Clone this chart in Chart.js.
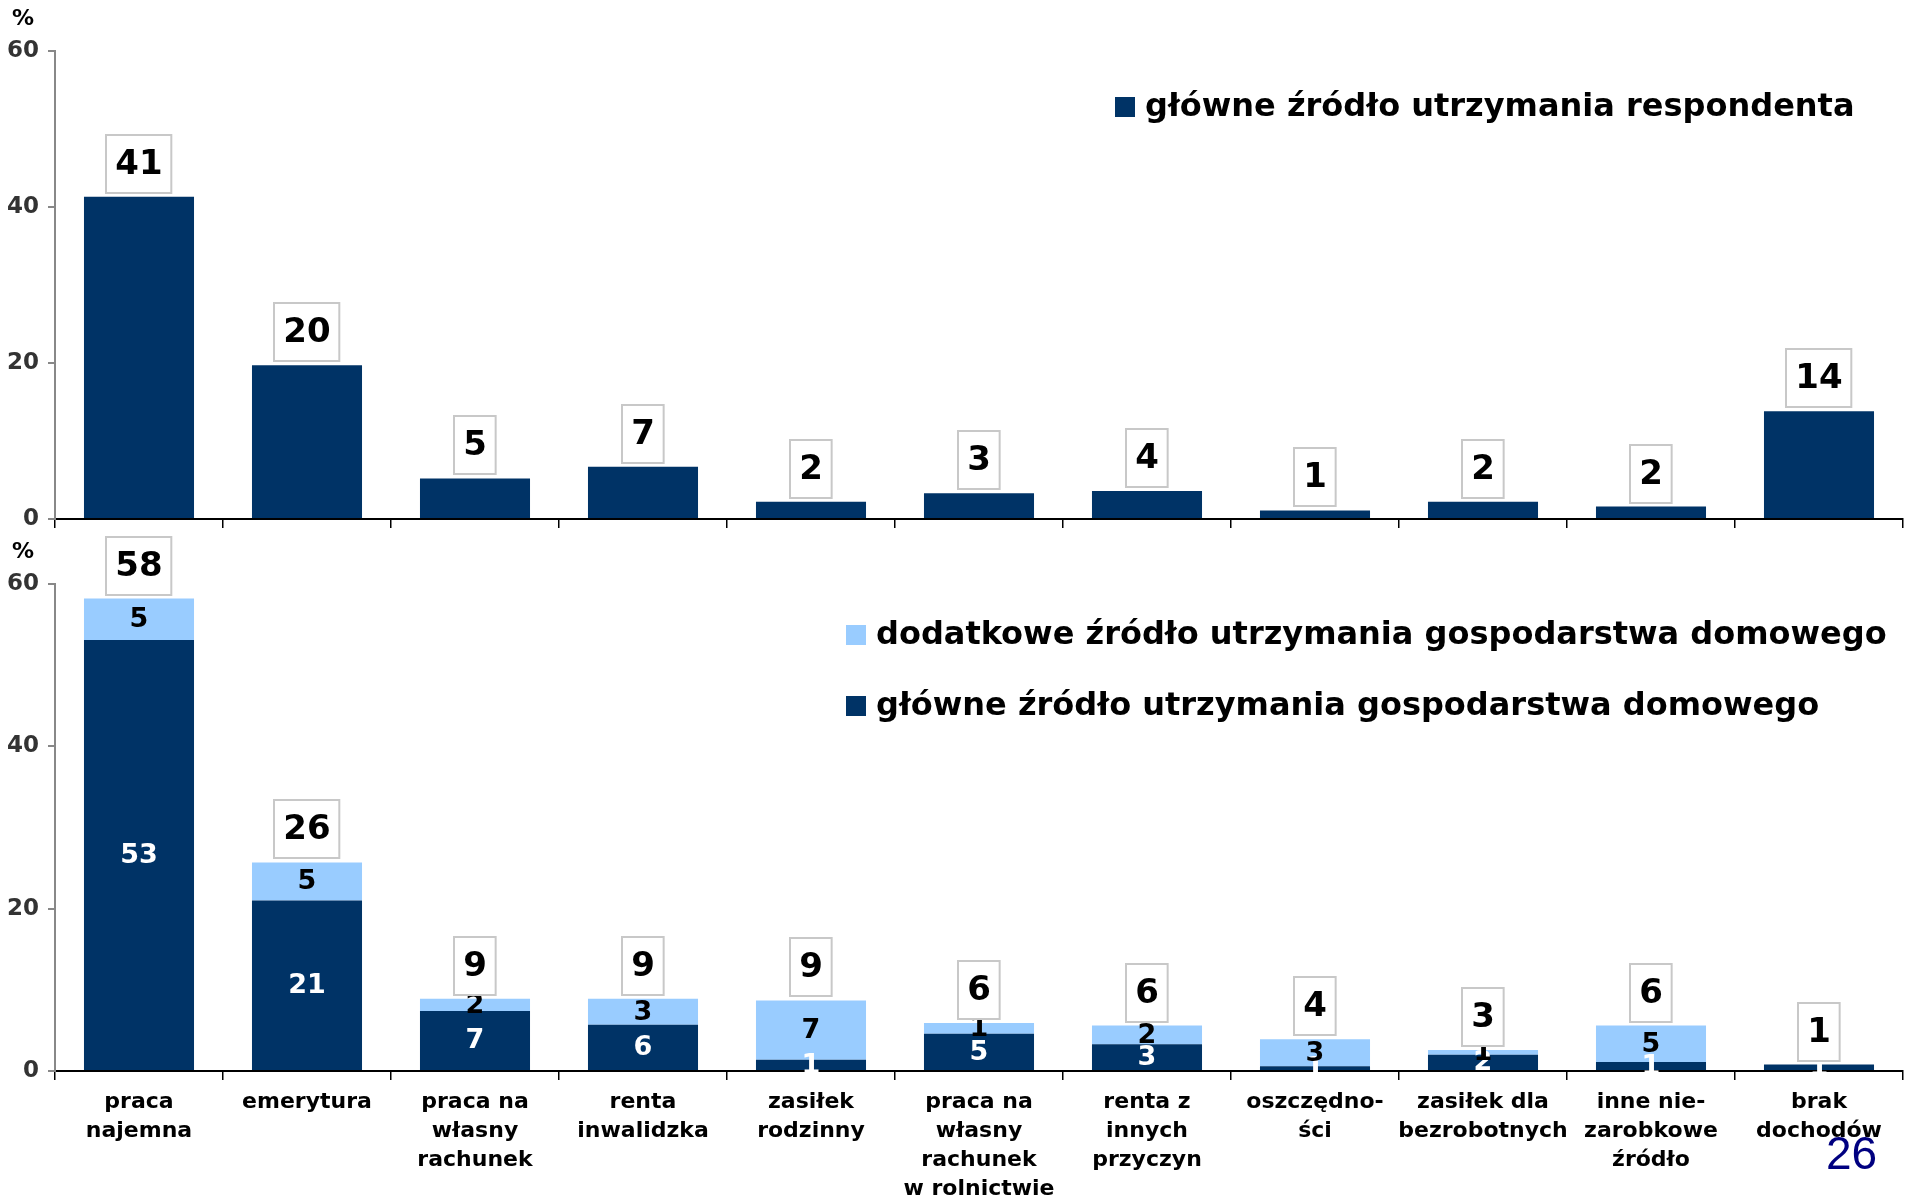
<!DOCTYPE html>
<html>
<head>
<meta charset="utf-8">
<script src="https://cdn.jsdelivr.net/npm/chart.js@4.4.1/dist/chart.umd.min.js"></script>
<style>
  html, body { margin: 0; padding: 0; background: #fff; }
  #wrap { position: relative; width: 1915px; height: 1203px; overflow: hidden; }
  #page { position: absolute; left: 1826px; top: 1126px; font: 46px "Liberation Sans", Arial, sans-serif; color: #000080; }
</style>
</head>
<body>
<div id="wrap">
  <canvas id="topChart" width="1915" height="543" style="position:absolute;left:0;top:0"></canvas>
  <canvas id="botChart" width="1915" height="673" style="position:absolute;left:0;top:530px"></canvas>
  <div id="page">26</div>
</div>
<script>
// ---------------- DATA ----------------
const categories = [
  ['praca', 'najemna'],
  ['emerytura'],
  ['praca na', 'własny', 'rachunek'],
  ['renta', 'inwalidzka'],
  ['zasiłek', 'rodzinny'],
  ['praca na', 'własny', 'rachunek', 'w rolnictwie'],
  ['renta z', 'innych', 'przyczyn'],
  ['oszczędno-', 'ści'],
  ['zasiłek dla', 'bezrobotnych'],
  ['inne nie-', 'zarobkowe', 'źródło'],
  ['brak', 'dochodów']
];

// górny wykres: główne źródło utrzymania respondenta
const mainRespondent = [41.3, 19.7, 5.2, 6.7, 2.2, 3.3, 3.6, 1.1, 2.2, 1.6, 13.8];

// dolny wykres: gospodarstwo domowe
const mainHousehold  = [53.1, 21.0, 7.4, 5.7, 1.4, 4.6, 3.3, 0.6, 2.0, 1.1, 0.8];
const extraHousehold = [5.1, 4.7, 1.5, 3.2, 7.3, 1.3, 2.3, 3.3, 0.6, 4.5, 0];

const yTicks = [0, 20, 40, 60];

const LBL_RESP  = 'główne źródło utrzymania respondenta';
const LBL_MAIN  = 'główne źródło utrzymania gospodarstwa domowego';
const LBL_EXTRA = 'dodatkowe źródło utrzymania gospodarstwa domowego';

// ---------------- STYLE ----------------
const FONT = '"DejaVu Sans", Verdana, sans-serif';
const NAVY = '#003366';
const LIGHT = '#99ccff';

// etykiety wartości: w środku segmentów + sumy w ramkach
const labelPlugin = {
  id: 'barLabels',
  afterDatasetsDraw(chart, args, opts) {
    const ctx = chart.ctx;
    const yScale = chart.scales.y;
    ctx.save();
    ctx.textAlign = 'center';
    ctx.textBaseline = 'middle';

    if (opts.inner) {
      ctx.font = 'bold 27px ' + FONT;
      chart.data.datasets.forEach((ds, di) => {
        const meta = chart.getDatasetMeta(di);
        ctx.fillStyle = ds.labelColor;
        meta.data.forEach((bar, i) => {
          const v = ds.data[i];
          if (!v) return;
          const p = bar.getProps(['x', 'y', 'base'], true);
          ctx.fillText(String(Math.round(v)), p.x, (p.y + p.base) / 2 + 1);
        });
      });
    }

    ctx.font = 'bold 34px ' + FONT;
    chart.data.labels.forEach((lab, i) => {
      let total = 0;
      chart.data.datasets.forEach(ds => { total += ds.data[i] || 0; });
      const x = chart.getDatasetMeta(0).data[i].x;
      const top = yScale.getPixelForValue(total);
      const txt = String(Math.round(total));
      const w = ctx.measureText(txt).width + 18;
      const h = 58;
      const bx = Math.round(x - w / 2), by = Math.round(top - 4 - h);
      ctx.fillStyle = '#fff';
      ctx.fillRect(bx, by, w, h);
      ctx.strokeStyle = '#c8c8c8';
      ctx.lineWidth = 2;
      ctx.strokeRect(bx, by, w, h);
      ctx.fillStyle = '#000';
      ctx.fillText(txt, x, by + h / 2 + 1);
    });
    ctx.restore();
  }
};

// legenda i znak "%"
const legendPlugin = {
  id: 'boxLegend',
  afterDraw(chart, args, opts) {
    const ctx = chart.ctx;
    const area = chart.chartArea;
    ctx.save();
    ctx.font = 'bold 22px ' + FONT;
    ctx.fillStyle = '#000';
    ctx.textAlign = 'center';
    ctx.textBaseline = 'middle';
    ctx.fillText('%', area.left - 32, area.top - 32);

    ctx.font = 'bold 32px ' + FONT;
    ctx.textAlign = 'left';
    opts.order.forEach((di, row) => {
      const ds = chart.data.datasets[di];
      const cy = opts.y + row * opts.rowGap;
      ctx.fillStyle = ds.backgroundColor;
      ctx.fillRect(opts.x, cy - 10, 20, 20);
      ctx.fillStyle = '#000';
      ctx.fillText(ds.label, opts.x + 30, cy + 1);
    });
    ctx.restore();
  }
};

function makeChart(id, datasets, cfg) {
  const ctx = document.getElementById(id).getContext('2d');
  return new Chart(ctx, {
    type: 'bar',
    data: { labels: categories, datasets: datasets },
    options: {
      responsive: false,
      devicePixelRatio: 1,
      animation: false,
      layout: { padding: { left: 0, right: 12, top: cfg.padTop, bottom: 0 } },
      plugins: {
        legend: { display: false },
        tooltip: { enabled: false },
        barLabels: { inner: cfg.inner },
        boxLegend: cfg.legend
      },
      scales: {
        x: {
          stacked: true,
          grid: { offset: true, drawOnChartArea: false, tickLength: 9, color: '#000', lineWidth: 1.5 },
          border: { color: '#000', width: 2 },
          ticks: {
            display: cfg.showLabels,
            color: '#000',
            font: { family: FONT, size: 22, weight: 'bold', lineHeight: 1.32 },
            padding: 8,
            maxRotation: 0,
            minRotation: 0,
            autoSkip: false
          },
          afterFit(s) { s.height = cfg.xHeight; }
        },
        y: {
          stacked: true,
          min: 0,
          max: 60,
          afterBuildTicks(s) { s.ticks = yTicks.map(v => ({ value: v })); },
          ticks: { color: '#333', font: { family: FONT, size: 23, weight: 'bold' }, padding: 9 },
          grid: { drawOnChartArea: false, tickLength: 7, color: '#888', lineWidth: 2 },
          border: { color: '#888', width: 2 },
          afterFit(s) { s.width = 55; }
        }
      }
    },
    plugins: [labelPlugin, legendPlugin]
  });
}

makeChart('topChart', [
  { label: LBL_RESP, data: mainRespondent, backgroundColor: NAVY, labelColor: '#fff',
    barPercentage: 0.655, categoryPercentage: 1 }
], { padTop: 51, xHeight: 24, showLabels: false, inner: false,
     legend: { x: 1115, y: 107, rowGap: 71, order: [0] } });

makeChart('botChart', [
  { label: LBL_MAIN, data: mainHousehold, backgroundColor: NAVY, labelColor: '#fff',
    barPercentage: 0.655, categoryPercentage: 1 },
  { label: LBL_EXTRA, data: extraHousehold, backgroundColor: LIGHT, labelColor: '#000',
    barPercentage: 0.655, categoryPercentage: 1 }
], { padTop: 54, xHeight: 132, showLabels: true, inner: true,
     legend: { x: 846, y: 105, rowGap: 71, order: [1, 0] } });
</script>
</body>
</html>
